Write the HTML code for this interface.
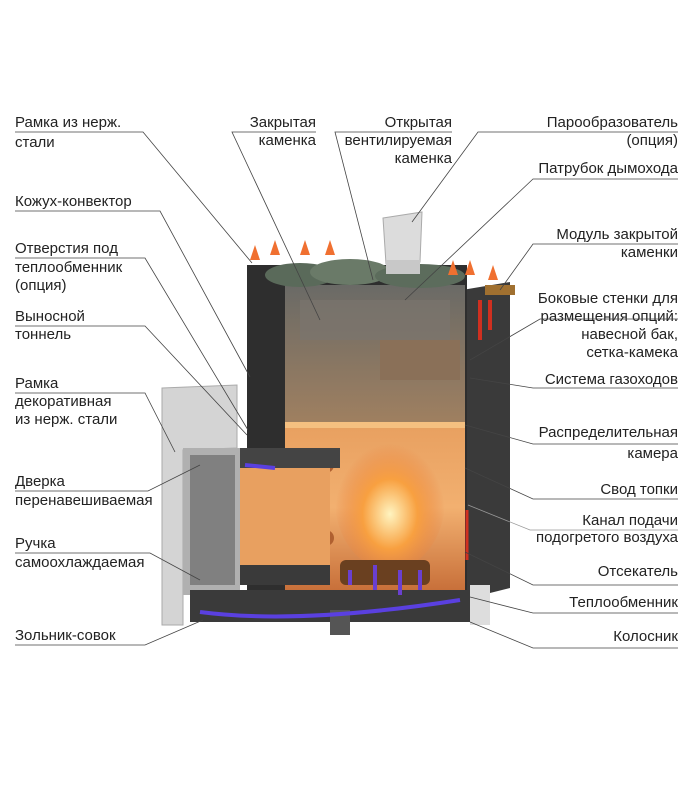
<!DOCTYPE html>
<html><head><meta charset="utf-8"><style>
html,body{margin:0;padding:0;background:#fff;}
svg{display:block}
text{font-family:"Liberation Sans",sans-serif;font-size:15px;fill:#222;}
</style></head><body>
<svg width="700" height="800" viewBox="0 0 700 800" xmlns="http://www.w3.org/2000/svg">
<defs>
<linearGradient id="fire" x1="0" y1="0" x2="0" y2="1">
<stop offset="0" stop-color="#e8a060"/><stop offset="0.5" stop-color="#f2b070"/><stop offset="1" stop-color="#c8703a"/>
</linearGradient>
<linearGradient id="glass" x1="0" y1="0" x2="0" y2="1">
<stop offset="0" stop-color="#6a6a66"/><stop offset="1" stop-color="#a08060"/>
</linearGradient>
<radialGradient id="flame" cx="0.5" cy="0.6" r="0.5">
<stop offset="0" stop-color="#fff4c0"/><stop offset="0.5" stop-color="#f8a040"/><stop offset="1" stop-color="#e88040" stop-opacity="0"/>
</radialGradient>
</defs>
<!-- right side panel -->
<polygon points="462,290 510,282 510,588 462,600" fill="#3a3a3a"/>
<!-- main body dark -->
<rect x="247" y="265" width="220" height="335" fill="#2e2e2e"/>
<!-- upper glass chamber -->
<rect x="285" y="285" width="180" height="140" fill="url(#glass)"/>
<!-- rocks -->
<ellipse cx="300" cy="275" rx="35" ry="12" fill="#5a6a5a"/>
<ellipse cx="350" cy="272" rx="40" ry="13" fill="#6a7a68"/>
<ellipse cx="420" cy="276" rx="45" ry="12" fill="#5c6c5c"/>
<rect x="300" y="300" width="150" height="40" fill="#7a756e" opacity="0.7"/>
<rect x="380" y="340" width="80" height="40" fill="#8a7058"/>
<!-- firebox -->
<rect x="285" y="425" width="180" height="165" fill="url(#fire)"/>
<rect x="285" y="422" width="180" height="6" fill="#f5c080"/>
<ellipse cx="390" cy="500" rx="55" ry="70" fill="url(#flame)"/>
<rect x="340" y="560" width="90" height="25" rx="6" fill="#6a4020"/>
<circle cx="326" cy="465" r="8" fill="#b06030"/>
<circle cx="326" cy="538" r="8" fill="#b06030"/>
<!-- chimney -->
<polygon points="383,218 422,212 420,262 386,264" fill="#dcdcdc" stroke="#aaa"/>
<rect x="386" y="260" width="34" height="14" fill="#c8c8c8"/>
<!-- tunnel frame -->
<polygon points="162,388 237,385 237,448 183,450 183,625 162,625" fill="#d4d4d4" stroke="#aaa"/>
<rect x="215" y="448" width="125" height="20" fill="#444"/>
<!-- door -->
<rect x="183" y="448" width="57" height="147" fill="#b0b0b0"/>
<rect x="190" y="455" width="45" height="130" fill="#808080"/>
<rect x="240" y="468" width="90" height="115" fill="#e8a060"/>
<rect x="240" y="565" width="90" height="20" fill="#3a3a3a"/>
<!-- ash pan & base -->
<rect x="190" y="590" width="280" height="32" fill="#3a3a3a"/>
<rect x="330" y="610" width="20" height="25" fill="#555"/>
<rect x="470" y="585" width="20" height="40" fill="#ddd"/>
<!-- blue arrows -->
<path d="M200,612 Q300,625 460,600" stroke="#5a40e0" stroke-width="4" fill="none"/>
<path d="M350,585 L350,570 M375,590 L375,565 M400,595 L400,570 M420,590 L420,570" stroke="#6a40d0" stroke-width="4"/>
<path d="M245,465 L275,468" stroke="#5a40e0" stroke-width="4"/>
<!-- orange arrows -->
<g fill="#f07030">
<polygon points="250,260 255,245 260,260"/><polygon points="270,255 275,240 280,255"/><polygon points="300,255 305,240 310,255"/><polygon points="325,255 330,240 335,255"/>
<polygon points="448,275 453,260 458,275"/><polygon points="465,275 470,260 475,275"/><polygon points="488,280 493,265 498,280"/>
</g>
<path d="M480,340 L480,300 M490,330 L490,300" stroke="#d03020" stroke-width="4"/>
<path d="M467,560 L467,510" stroke="#d03020" stroke-width="3"/>
<rect x="485" y="285" width="30" height="10" fill="#a07030"/>
<!-- labels -->
<text x="15" y="127">Рамка из нерж.</text><text x="15" y="147">стали</text>
<text x="15" y="206">Кожух-конвектор</text>
<text x="15" y="253">Отверстия под</text><text x="15" y="272"> теплообменник</text><text x="15" y="290">(опция)</text>
<text x="15" y="321">Выносной</text><text x="15" y="339">тоннель</text>
<text x="15" y="388">Рамка</text><text x="15" y="406">декоративная</text><text x="15" y="424">из нерж. стали</text>
<text x="15" y="486">Дверка</text><text x="15" y="505">перенавешиваемая</text>
<text x="15" y="548">Ручка</text><text x="15" y="567">самоохлаждаемая</text>
<text x="15" y="640">Зольник-совок</text>
<g text-anchor="end">
<text x="316" y="127">Закрытая</text><text x="316" y="145">каменка</text>
<text x="452" y="127">Открытая</text><text x="452" y="145">вентилируемая</text><text x="452" y="163">каменка</text>
<text x="678" y="127">Парообразователь</text><text x="678" y="145">(опция)</text>
<text x="678" y="173">Патрубок дымохода</text>
<text x="678" y="239">Модуль закрытой</text><text x="678" y="257">каменки</text>
<text x="678" y="303">Боковые стенки для</text><text x="678" y="321">размещения опций:</text><text x="678" y="339">навесной бак,</text><text x="678" y="357">сетка-камека</text>
<text x="678" y="384">Система газоходов</text>
<text x="678" y="437">Распределительная</text><text x="678" y="458">камера</text>
<text x="678" y="494">Свод топки</text>
<text x="678" y="525">Канал подачи</text><text x="678" y="542">подогретого воздуха</text>
<text x="678" y="576">Отсекатель</text>
<text x="678" y="607">Теплообменник</text>
<text x="678" y="641">Колосник</text>
</g>
<!-- leaders -->
<g stroke="#444" stroke-width="0.8" fill="none">
<path d="M15,132 H143 L252,263"/>
<path d="M15,211 H160 L250,377"/>
<path d="M15,258 H145 L248,430"/>
<path d="M15,326 H145 L247,435"/>
<path d="M15,393 H145 L175,452"/>
<path d="M15,491 H148 L200,465"/>
<path d="M15,553 H150 L200,580"/>
<path d="M15,645 H145 L203,620"/>
<path d="M316,132 H232 L320,320"/>
<path d="M452,132 H335 L373,280"/>
<path d="M678,132 H478 L412,222"/>
<path d="M678,179 H533 L405,300"/>
<path d="M678,244 H533 L500,290"/>
<path d="M678,319 H540 L470,360"/>
<path d="M678,388 H533 L470,378"/>
<path d="M678,444 H533 L465,425"/>
<path d="M678,499 H533 L465,468"/>
<path d="M678,530 H530 L468,505" stroke="#999"/>
<path d="M678,585 H533 L465,552"/>
<path d="M678,613 H533 L470,597"/>
<path d="M678,648 H533 L470,622"/>
</g>
</svg>
</body></html>
